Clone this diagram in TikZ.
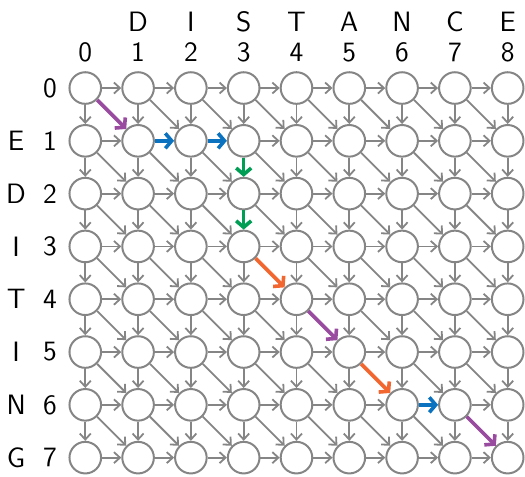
\documentclass[tikz,border=0pt]{standalone}
\usetikzlibrary{arrows.meta}
\definecolor{EDgray}{HTML}{858585}
\definecolor{EDpurple}{HTML}{984B9F}
\definecolor{EDblue}{HTML}{0A72BE}
\definecolor{EDgreen}{HTML}{009E55}
\definecolor{EDorange}{HTML}{F2662F}
\tikzset{cell/.style={circle,draw=EDgray,line width=1pt,minimum size=15.8pt,inner sep=0pt},
 lab/.style={font=\sffamily\fontsize{14}{16}\selectfont,inner sep=0pt},
 gridarr/.style={-{Straight Barb[length=3pt,width=5.5pt]},draw=EDgray,line width=0.9pt},
 patharr/.style={-{Straight Barb[length=3.2pt,width=7.5pt]},line width=1.8pt}}
% edges of the path are drawn in colour, not in grey
\newcommand{\pathedge}[1]{\expandafter\def\csname edskip#1\endcsname{}}
\pathedge{d0-0}\pathedge{h1-1}\pathedge{h1-2}\pathedge{v1-3}\pathedge{v2-3}
\pathedge{d3-3}\pathedge{d4-4}\pathedge{d5-5}\pathedge{h6-6}\pathedge{d6-7}

\begin{document}
\begin{tikzpicture}[x=26.4pt,y=-26.4pt]
\useasboundingbox (-1.615,-1.667) rectangle (8.328,7.348);
% labels
\foreach \c/\ch in {1/D,2/I,3/S,4/T,5/A,6/N,7/C,8/E}
  \node[lab] (top-\c) at (\c,-1.25) {\ch};
\foreach \r/\ch in {1/E,2/D,3/I,4/T,5/I,6/N,7/G}
  \node[lab] (left-\r) at (-1.31,\r) {\ch};
\foreach \c in {0,...,8}
  \node[lab] (cnum-\c) at (\c,-0.68) {\c};
\foreach \r in {0,...,7}
  \node[lab] (rnum-\r) at (-0.67,\r) {\r};
% cells
\foreach \r in {0,...,7}
  \foreach \c in {0,...,8}
    \node[cell] (n-\r-\c) at (\c,\r) {};
% grey edges
\foreach \r in {0,...,7}
  \foreach \c [count=\cn] in {0,...,7}
    {\ifcsname edskiph\r-\c\endcsname\else
      \draw[gridarr] (n-\r-\c) -- (n-\r-\cn);\fi}
\foreach \r [count=\rn] in {0,...,6}
  \foreach \c in {0,...,8}
    {\ifcsname edskipv\r-\c\endcsname\else
      \draw[gridarr] (n-\r-\c) -- (n-\rn-\c);\fi}
\foreach \r [count=\rn] in {0,...,6}
  \foreach \c [count=\cn] in {0,...,7}
    {\ifcsname edskipd\r-\c\endcsname\else
      \draw[gridarr] (n-\r-\c) -- (n-\rn-\cn);\fi}
% alignment path
\draw[patharr,EDpurple] (n-0-0) -- (n-1-1);
\draw[patharr,EDblue] (n-1-1) -- (n-1-2);
\draw[patharr,EDblue] (n-1-2) -- (n-1-3);
\draw[patharr,EDgreen] (n-1-3) -- (n-2-3);
\draw[patharr,EDgreen] (n-2-3) -- (n-3-3);
\draw[patharr,EDorange] (n-3-3) -- (n-4-4);
\draw[patharr,EDpurple] (n-4-4) -- (n-5-5);
\draw[patharr,EDorange] (n-5-5) -- (n-6-6);
\draw[patharr,EDblue] (n-6-6) -- (n-6-7);
\draw[patharr,EDpurple] (n-6-7) -- (n-7-8);
\end{tikzpicture}
\end{document}
